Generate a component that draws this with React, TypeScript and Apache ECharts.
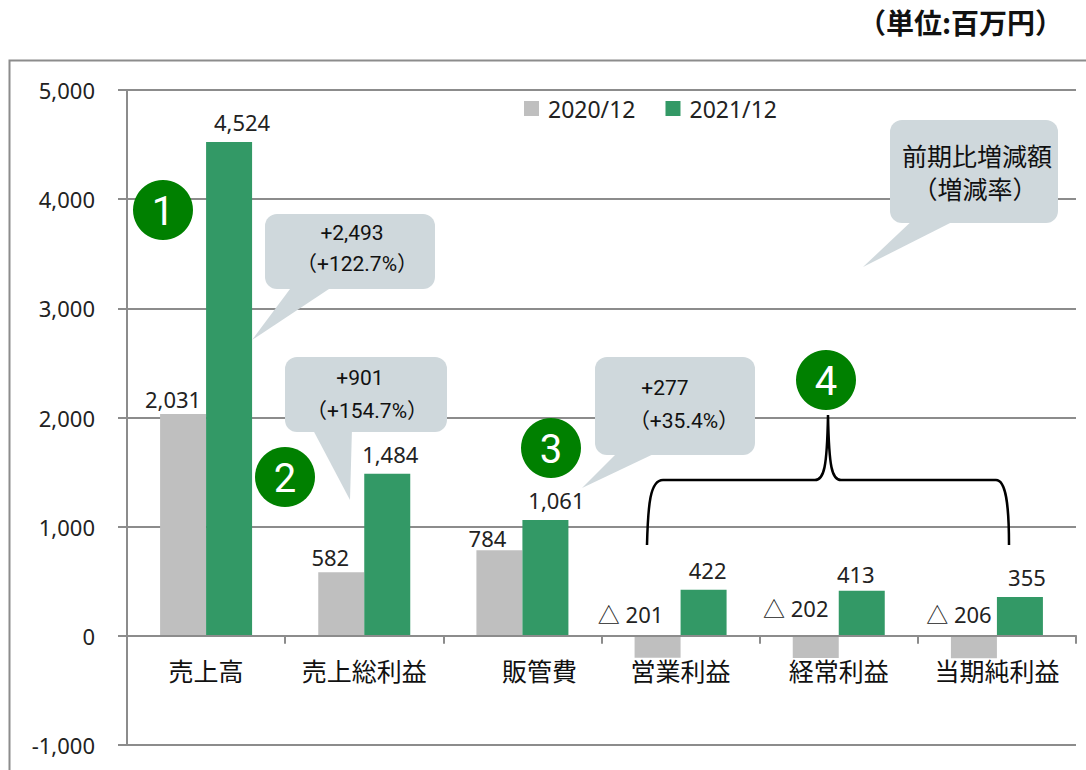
import React, { useEffect, useRef } from "react";
import * as echarts from "echarts";

const categories = ["売上高", "売上総利益", "販管費", "営業利益", "経常利益", "当期純利益"];
const values2020 = [2031, 582, 784, -201, -202, -206];
const values2021 = [4524, 1484, 1061, 422, 413, 355];
const seriesNames = ["2020/12", "2021/12"];
const yTicks = { min: -1000, max: 5000, interval: 1000 };
const unitText = "（単位:百万円）";
const callouts = [
  { line1: "+2,493", line2: "（+122.7%）" },
  { line1: "+901", line2: "（+154.7%）" },
  { line1: "+277", line2: "（+35.4%）" },
];
const legendCallout = { line1: "前期比増減額", line2: "（増減率）" };
const badges = ["1", "2", "3", "4"];

// label nudges (style only)
const offs2020 = [[-10, 0], [-11, 0], [-12, 3], [-27, 0], [-20, -6], [-15, 0]];
const offs2021 = [[13, 0], [3, 0], [11, 0], [4, 0], [-6, 3], [7, 0]];

const GREEN = "#339966";
const GRAY = "#bfbfbf";
const AXIS = "#8c8c8c";
const BUBBLE = "#cfd8dc";
const BADGE = "#008000";
const NUM_FONT = "'Noto Sans', 'Noto Sans CJK JP', sans-serif";
const CJK_FONT = "'Noto Sans CJK JP', sans-serif";
const CALLOUT_FONT = "Roboto, 'Noto Sans CJK JP', sans-serif";

let registered = false;
function registerShapes() {
  if (registered) return;
  registered = true;
  const braceD =
    "M647 545 C648 505 650 480 663 480 L815 480 C824 480 827 468 828 415 C829 468 832 480 841 480 L996 480 C1006 480 1009 505 1009 545";
  echarts.graphic.registerShape("brace", echarts.graphic.extendPath(braceD, {}) as any);
}

function fmt(v: number) {
  if (v < 0) return "△ " + Math.abs(v).toLocaleString("en-US");
  return v.toLocaleString("en-US");
}

function bubble(
  rect: [number, number, number, number],
  tail: [number, number][],
  t1: { x: number; y: number; text: string },
  t2: { x: number; y: number; text: string },
  fontSize: number,
  font: string
) {
  return [
    { type: "polygon", shape: { points: tail }, style: { fill: BUBBLE }, z: 10 },
    {
      type: "rect",
      shape: { x: rect[0], y: rect[1], width: rect[2], height: rect[3], r: 12 },
      style: { fill: BUBBLE },
      z: 10,
    },
    {
      type: "text",
      x: t1.x,
      y: t1.y,
      style: { text: t1.text, fill: "#111", font: `${fontSize}px ${font}`, align: "center", verticalAlign: "middle" },
      z: 11,
    },
    {
      type: "text",
      x: t2.x,
      y: t2.y,
      style: { text: t2.text, fill: "#111", font: `${fontSize}px ${font}`, align: "center", verticalAlign: "middle" },
      z: 11,
    },
  ];
}

function badge(cx: number, cy: number, text: string) {
  return [
    { type: "circle", shape: { cx, cy, r: 30 }, style: { fill: BADGE }, z: 12 },
    {
      type: "text",
      x: cx,
      y: cy + 1,
      style: { text, fill: "#fff", font: `40px Roboto, sans-serif`, align: "center", verticalAlign: "middle" },
      z: 13,
    },
  ];
}

export default function App() {
  const ref = useRef<HTMLDivElement>(null);
  useEffect(() => {
    if (!ref.current) return;
    registerShapes();
    const chart = echarts.init(ref.current, undefined, { renderer: "svg" });
    const graphic: any[] = [
      {
        type: "rect",
        shape: { x: 9.5, y: 60.5, width: 1200, height: 900 },
        style: { fill: "none", stroke: AXIS, lineWidth: 2 },
        z: 0,
      },
      {
        type: "text",
        x: 1063,
        y: 22,
        style: { text: unitText, fill: "#111", font: `bold 28px ${CJK_FONT}`, align: "right", verticalAlign: "middle" },
      },
      ...bubble(
        [265, 214, 170, 75],
        [[293, 285], [335, 285], [252, 340]],
        { x: 352, y: 233, text: callouts[0].line1 },
        { x: 357, y: 264, text: callouts[0].line2 },
        21,
        CALLOUT_FONT
      ),
      ...bubble(
        [285, 357, 162, 75],
        [[312, 428], [352, 428], [350, 500]],
        { x: 360, y: 378, text: callouts[1].line1 },
        { x: 367, y: 411, text: callouts[1].line2 },
        21,
        CALLOUT_FONT
      ),
      ...bubble(
        [595, 357, 160, 98],
        [[620, 450], [662, 450], [582, 488]],
        { x: 665, y: 388, text: callouts[2].line1 },
        { x: 684, y: 421, text: callouts[2].line2 },
        21,
        CALLOUT_FONT
      ),
      ...bubble(
        [890, 120, 168, 103],
        [[915, 218], [960, 218], [863, 267]],
        { x: 977, y: 155, text: legendCallout.line1 },
        { x: 975, y: 188, text: legendCallout.line2 },
        25,
        CJK_FONT
      ),
      ...badge(163, 210, badges[0]),
      ...badge(285, 477, badges[1]),
      ...badge(551, 448, badges[2]),
      ...badge(826, 380, badges[3]),
      {
        type: "brace",
        x: 0,
        y: 0,
        style: { fill: "none", stroke: "#000", lineWidth: 2.5 },
        z: 12,
      },
    ];

    const option: any = {
      animation: false,
      grid: { left: 127, right: 10, top: 90, bottom: 25, containLabel: false, outerBoundsMode: "none" },
      legend: {
        data: seriesNames,
        left: 519,
        top: 92,
        icon: "rect",
        itemWidth: 15,
        itemHeight: 15,
        itemGap: 30,
        textStyle: { fontSize: 23, color: "#222", fontFamily: NUM_FONT, padding: [0, 0, 0, 4] },
      },
      xAxis: {
        type: "category",
        data: categories.map((c) =>
          c === "販管費" ? { value: c, textStyle: { padding: [0, 0, 0, 34] } } : c
        ),
        axisLine: { onZero: true, lineStyle: { color: AXIS, width: 2 } },
        axisTick: { show: true, length: 8, lineStyle: { color: AXIS, width: 2 } },
        axisLabel: { fontSize: 25, color: "#111", fontFamily: CJK_FONT, margin: -88, interval: 0 },
        z: 3,
      },
      yAxis: {
        type: "value",
        min: yTicks.min,
        max: yTicks.max,
        interval: yTicks.interval,
        axisLine: { show: true, lineStyle: { color: AXIS, width: 2 } },
        axisTick: { show: true, length: 9, lineStyle: { color: AXIS, width: 2 } },
        splitLine: { show: true, lineStyle: { color: AXIS, width: 2 } },
        axisLabel: {
          fontSize: 22,
          color: "#222",
          fontFamily: NUM_FONT,
          margin: 32,
          formatter: (v: number) => v.toLocaleString("en-US"),
        },
      },
      series: [
        {
          name: seriesNames[0],
          type: "bar",
          barWidth: 46,
          barGap: "0%",
          itemStyle: { color: GRAY },
          data: values2020.map((v, i) => ({
            value: v,
            label: { offset: offs2020[i], distance: v < 0 ? 11 : 4 },
          })),
          label: {
            show: true,
            position: "top",
            fontSize: 22,
            color: "#222",
            fontFamily: NUM_FONT,
            formatter: (p: any) => fmt(p.value),
          },
          z: 2,
        },
        {
          name: seriesNames[1],
          type: "bar",
          barWidth: 46,
          barGap: "0%",
          itemStyle: { color: GREEN },
          data: values2021.map((v, i) => ({ value: v, label: { offset: offs2021[i] } })),
          label: {
            show: true,
            position: "top",
            distance: 9,
            fontSize: 22,
            color: "#222",
            fontFamily: NUM_FONT,
            formatter: (p: any) => fmt(p.value),
          },
          z: 2,
        },
      ],
      graphic,
    };
    chart.setOption(option);
    return () => chart.dispose();
  }, []);
  return (
    <div
      ref={ref}
      style={{ position: "fixed", left: 0, top: 0, width: 1086, height: 770, background: "#fff" }}
    />
  );
}
